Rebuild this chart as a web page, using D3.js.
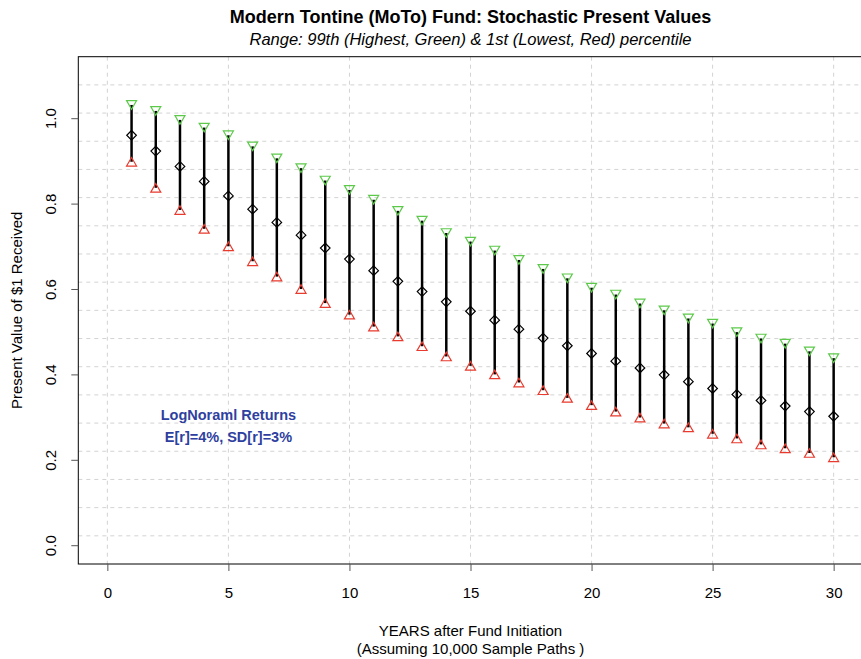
<!DOCTYPE html>
<html>
<head>
<meta charset="utf-8">
<script src="https://cdn.jsdelivr.net/npm/d3@7"></script>
<style>
  body { margin: 0; background: #fff; }
  svg { display: block; font-family: "Liberation Sans", Arial, Helvetica, sans-serif; }
</style>
</head>
<body>
<div id="chart"></div>
<script>
// data: years, 99th pct (green), median, 1st pct (red)
const years = d3.range(1, 31);
const p99 = [1.031, 1.017, 0.996, 0.978, 0.960, 0.934, 0.906, 0.883, 0.854, 0.832,
             0.809, 0.783, 0.760, 0.731, 0.711, 0.690, 0.668, 0.647, 0.625, 0.603,
             0.587, 0.566, 0.550, 0.531, 0.519, 0.499, 0.484, 0.472, 0.454, 0.438];
const median = [0.960, 0.923, 0.887, 0.852, 0.818, 0.787, 0.756, 0.726, 0.696, 0.670,
                0.643, 0.618, 0.594, 0.570, 0.548, 0.527, 0.506, 0.485, 0.467, 0.449,
                0.431, 0.415, 0.399, 0.383, 0.367, 0.353, 0.339, 0.326, 0.313, 0.302];
const p01 = [0.898, 0.837, 0.785, 0.741, 0.700, 0.665, 0.629, 0.600, 0.567, 0.540,
             0.512, 0.489, 0.466, 0.442, 0.420, 0.400, 0.381, 0.363, 0.345, 0.328,
             0.313, 0.299, 0.285, 0.276, 0.261, 0.250, 0.236, 0.227, 0.216, 0.206];
const xTicks = [0, 5, 10, 15, 20, 25, 30];
const yTicks = [0, 0.2, 0.4, 0.6, 0.8, 1.0];
const xlim = [0, 30];
const ylim = [0, 1.1];

const width = 861, height = 659;
const plot = {left: 78.3, right: 862.7, top: 56.7, bottom: 564};

// R style 4% axis extension
const ext = (lim) => { const d = (lim[1] - lim[0]) * 0.04; return [lim[0] - d, lim[1] + d]; };
const x = d3.scaleLinear().domain(ext(xlim)).range([plot.left, plot.right]);
const y = d3.scaleLinear().domain(ext(ylim)).range([plot.bottom, plot.top]);

const svg = d3.select("#chart").append("svg")
  .attr("width", width)
  .attr("height", height);

// grid: vertical at ticks, horizontal in 18 equal parts of the plot area
const grid = svg.append("g")
  .attr("stroke", "#d3d3d3")
  .attr("stroke-width", 1)
  .attr("stroke-dasharray", "4,4");
grid.selectAll("line.v").data(xTicks).join("line")
  .attr("x1", d => x(d)).attr("x2", d => x(d))
  .attr("y1", plot.top).attr("y2", plot.bottom);
const yd = y.domain();
grid.selectAll("line.h").data(d3.range(1, 18)).join("line")
  .attr("x1", plot.left).attr("x2", plot.right)
  .attr("y1", k => y(yd[0] + k * (yd[1] - yd[0]) / 18))
  .attr("y2", k => y(yd[0] + k * (yd[1] - yd[0]) / 18));

// box
svg.append("rect")
  .attr("x", plot.left).attr("y", plot.top)
  .attr("width", plot.right - plot.left).attr("height", plot.bottom - plot.top)
  .attr("fill", "none").attr("stroke", "#000").attr("stroke-width", 1);

// x axis
const xAxis = svg.append("g")
  .attr("transform", `translate(0,${plot.bottom})`)
  .call(d3.axisBottom(x).tickValues(xTicks).tickSize(7).tickPadding(16).tickFormat(d3.format("d")));
xAxis.select(".domain").remove();
xAxis.selectAll(".tick line").attr("stroke", "#555");
xAxis.selectAll(".tick text").attr("font-size", 15).attr("font-family", null).attr("fill", "#000");

// y axis with rotated labels
const yAxis = svg.append("g")
  .attr("transform", `translate(${plot.left},0)`)
  .call(d3.axisLeft(y).tickValues(yTicks).tickSize(7).tickFormat(d3.format(".1f")));
yAxis.select(".domain").remove();
yAxis.selectAll(".tick line").attr("stroke", "#555");
yAxis.selectAll(".tick text")
  .attr("font-size", 15).attr("font-family", null).attr("fill", "#000")
  .attr("x", null).attr("dy", null)
  .attr("text-anchor", "middle")
  .attr("transform", "translate(-22,0) rotate(-90)");

// range bars
const g = svg.append("g");
g.selectAll("line.bar").data(years).join("line")
  .attr("x1", (d) => x(d)).attr("x2", (d) => x(d))
  .attr("y1", (d, i) => y(p99[i])).attr("y2", (d, i) => y(p01[i]))
  .attr("stroke", "#000").attr("stroke-width", 2.5);

// markers
const tri = (cx, cy, up) => {
  const w = 5, h = 4.3;
  return up
    ? `M${cx},${cy - h}L${cx + w},${cy + h}L${cx - w},${cy + h}Z`
    : `M${cx},${cy + h}L${cx + w},${cy - h}L${cx - w},${cy - h}Z`;
};
g.selectAll("path.hi").data(years).join("path")
  .attr("d", (d, i) => tri(x(d), y(p99[i]), false))
  .attr("fill", "none").attr("stroke", "#5cc94a").attr("stroke-width", 1.2);
g.selectAll("path.lo").data(years).join("path")
  .attr("d", (d, i) => tri(x(d), y(p01[i]), true))
  .attr("fill", "none").attr("stroke", "#e83a2e").attr("stroke-width", 1.2);
g.selectAll("path.med").data(years).join("path")
  .attr("d", (d, i) => {
    const cx = x(d), cy = y(median[i]), r = 4.8;
    return `M${cx},${cy - r}L${cx + r},${cy}L${cx},${cy + r}L${cx - r},${cy}Z`;
  })
  .attr("fill", "none").attr("stroke", "#000").attr("stroke-width", 1.2);

// annotation
const note = svg.append("text")
  .attr("x", x(5)).attr("y", 420)
  .attr("text-anchor", "middle")
  .attr("font-size", 14.5).attr("font-weight", "bold")
  .attr("fill", "#2f3f9f");
note.append("tspan").attr("x", x(5)).text("LogNoraml Returns");
note.append("tspan").attr("x", x(5)).attr("dy", 22).text("E[r]=4%, SD[r]=3%");

// titles
const cx = (plot.left + plot.right) / 2;
svg.append("text").attr("x", cx).attr("y", 23)
  .attr("text-anchor", "middle").attr("font-size", 18).attr("font-weight", "bold")
  .text("Modern Tontine (MoTo) Fund: Stochastic Present Values");
svg.append("text").attr("x", cx).attr("y", 45)
  .attr("text-anchor", "middle").attr("font-size", 16.5).attr("font-style", "italic")
  .text("Range: 99th (Highest, Green) & 1st (Lowest, Red) percentile");

svg.append("text").attr("x", cx).attr("y", 636)
  .attr("text-anchor", "middle").attr("font-size", 15)
  .text("YEARS after Fund Initiation");
svg.append("text").attr("x", cx).attr("y", 654)
  .attr("text-anchor", "middle").attr("font-size", 15)
  .text("(Assuming 10,000 Sample Paths )");

svg.append("text")
  .attr("transform", `translate(22,${(plot.top + plot.bottom) / 2}) rotate(-90)`)
  .attr("text-anchor", "middle").attr("font-size", 15)
  .text("Present Value of $1 Received");
</script>
</body>
</html>
